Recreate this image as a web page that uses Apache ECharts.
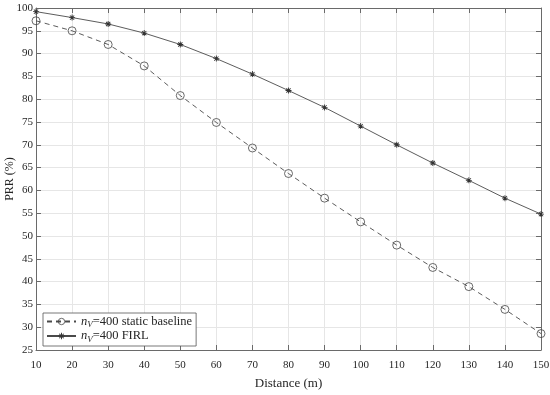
<!DOCTYPE html>
<html><head><meta charset="utf-8">
<script src="https://cdn.jsdelivr.net/npm/echarts@6/dist/echarts.min.js"></script>
<style>html,body{margin:0;padding:0;background:#fff}#c{width:550px;height:395px}</style>
</head><body><div id="c"></div>
<script>
const distances = [10,20,30,40,50,60,70,80,90,100,110,120,130,140,150];
const staticBaseline = [97.2,95.0,92.0,87.3,80.8,74.9,69.3,63.7,58.3,53.1,48.0,43.1,38.9,33.9,28.6];
const firl = [99.2,97.9,96.5,94.5,92.0,88.9,85.5,81.9,78.2,74.1,70.0,66.0,62.2,58.3,54.8];
const seriesNames = ['static', 'firl'];
const seriesSuffix = ['=400 static baseline', '=400 FIRL'];
const xTitle = 'Distance (m)';
const yTitle = 'PRR (%)';

const FONT = 'Liberation Serif';
const TXT = '#262626';
const AX = '#6a6a6a';
const LINE = '#4a4a4a';
const star = 'path://M-1,-0.15 L1,-0.15 L1,0.15 L-1,0.15 Z M-0.15,-1 L0.15,-1 L0.15,1 L-0.15,1 Z M-0.6,-0.81 L0.81,0.6 L0.6,0.81 L-0.81,-0.6 Z M0.6,-0.81 L0.81,-0.6 L-0.6,0.81 L-0.81,0.6 Z';

const chart = echarts.init(document.getElementById('c'), null, {renderer:'canvas'});
const baseX = {
  type:'value', min:10, max:150, interval:10,
  axisLine:{show:true, lineStyle:{color:AX, width:1}},
  axisTick:{show:true, inside:true, length:5, lineStyle:{color:AX}},
};
const baseY = {
  type:'value', min:25, max:100, interval:5,
  axisLine:{show:true, lineStyle:{color:AX, width:1}},
  axisTick:{show:true, inside:true, length:5, lineStyle:{color:AX}},
};
chart.setOption({
  animation:false,
  backgroundColor:'#fff',
  textStyle:{fontFamily:FONT},
  grid:{left:36, right:9, top:8, bottom:45, containLabel:false, outerBoundsMode:'none'},
  xAxis:[
    Object.assign({}, baseX, {position:'bottom',
      name:xTitle, nameLocation:'middle', nameGap:27, nameMoveOverlap:false,
      nameTextStyle:{fontFamily:FONT, fontSize:13, color:TXT},
      axisLabel:{fontFamily:FONT, fontSize:11, color:TXT, margin:10},
      splitLine:{show:true, lineStyle:{color:'#e6e6e6', width:1}}}),
    Object.assign({}, baseX, {position:'top', axisLabel:{show:false}, splitLine:{show:false}})
  ],
  yAxis:[
    Object.assign({}, baseY, {position:'left',
      name:yTitle, nameLocation:'middle', nameGap:20, nameMoveOverlap:false,
      nameTextStyle:{fontFamily:FONT, fontSize:12, color:TXT},
      axisLabel:{fontFamily:FONT, fontSize:11, color:TXT, margin:3},
      splitLine:{show:true, lineStyle:{color:'#e6e6e6', width:1}}}),
    Object.assign({}, baseY, {position:'right', axisLabel:{show:false}, splitLine:{show:false}})
  ],
  legend:{
    orient:'vertical', left:43, top:313,
    backgroundColor:'#fff', borderColor:'#555', borderWidth:0.8,
    padding:[2,4,2,3], itemGap:0, itemWidth:29, itemHeight:8,
    itemStyle:{borderWidth:0.8},
    data: seriesNames,
    formatter: function(name){
      const i = seriesNames.indexOf(name);
      return '{i|n}{s|V}{t|' + seriesSuffix[i] + '}';
    },
    textStyle:{fontFamily:FONT, fontSize:12.5, color:TXT,
      rich:{
        i:{fontFamily:FONT, fontStyle:'italic', fontSize:12.5, color:TXT},
        s:{fontFamily:FONT, fontStyle:'italic', fontSize:9, color:TXT, padding:[7,0,0,0]},
        t:{fontFamily:FONT, fontSize:12.5, color:TXT}
      }}
  },
  series:[
    {name:seriesNames[0], type:'line', xAxisIndex:0, yAxisIndex:0,
     data: distances.map((d,k)=>[d, staticBaseline[k]]),
     symbol:'circle', symbolSize:8, showSymbol:true,
     lineStyle:{color:LINE, width:0.9, type:[5,4]},
     itemStyle:{color:'rgba(255,255,255,0)', borderColor:'#444', borderWidth:0.8}},
    {name:seriesNames[1], type:'line', xAxisIndex:0, yAxisIndex:0,
     data: distances.map((d,k)=>[d, firl[k]]),
     symbol:star, symbolSize:6, showSymbol:true,
     lineStyle:{color:LINE, width:0.9},
     itemStyle:{color:'#333', borderWidth:0}}
  ]
});
</script></body></html>
